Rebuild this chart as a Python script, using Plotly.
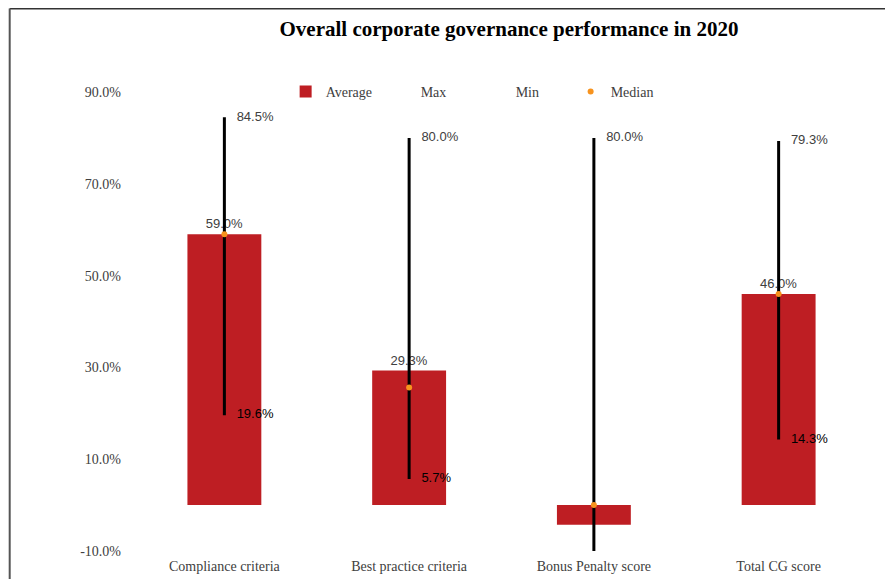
import plotly.graph_objects as go

categories = ["Compliance criteria<br>Max=70", "Best practice criteria<br>Max=30",
              "Bonus Penalty score<br>Max=10", "Total CG score"]
average = [59.0, 29.3, -4.3, 46.0]
max_val = [84.5, 80.0, 80.0, 79.3]
min_val = [19.6, 5.7, -10.0, 14.3]
median = [59.0, 25.6, 0.0, 46.0]

avg_labels = ["59.0%", "29.3%", "", "46.0%"]
max_labels = ["84.5%", "80.0%", "80.0%", "79.3%"]
min_labels = ["19.6%", "5.7%", "", "14.3%"]

serif = "Liberation Serif, Times New Roman, serif"
sans = "Liberation Sans, Arial, sans-serif"
red = "#BE1E23"

fig = go.Figure()
fig.add_trace(go.Bar(x=categories, y=average, name="Average",
                     marker=dict(color=red, line=dict(width=0)),
                     width=0.4,
                     text=avg_labels, textposition="outside",
                     textfont=dict(family=sans, size=13, color="#404040"),
                     cliponaxis=False))
fig.add_trace(go.Scatter(x=categories, y=max_val, name="Max",
                         mode="markers+text",
                         marker=dict(size=18, color="rgba(0,0,0,0)"),
                         text=max_labels, textposition="middle right",
                         textfont=dict(family=sans, size=13, color="#404040"),
                         cliponaxis=False))
fig.add_trace(go.Scatter(x=categories, y=min_val, name="Min",
                         mode="markers+text",
                         marker=dict(size=18, color="rgba(0,0,0,0)"),
                         text=min_labels, textposition="middle right",
                         textfont=dict(family=sans, size=13, color="#000000"),
                         cliponaxis=False))
# high-low line drawn as error bars around the median
fig.add_trace(go.Scatter(x=categories, y=median, name="Median",
                         mode="markers",
                         marker=dict(size=6, color="#F7931E"),
                         error_y=dict(type="data", symmetric=False,
                                      array=[mx - md for mx, md in zip(max_val, median)],
                                      arrayminus=[md - mn for md, mn in zip(median, min_val)],
                                      color="black", thickness=3, width=0),
                         cliponaxis=False))

fig.update_layout(
    width=893, height=579,
    margin=dict(l=123.5, r=29.5, t=84, b=36),
    paper_bgcolor="white", plot_bgcolor="white",
    title=dict(text="<b>Overall corporate governance performance in 2020</b>",
               x=0.561, xanchor="center", y=0.9637, yanchor="middle", yref="container",
               font=dict(family=serif, size=21, color="black")),
    legend=dict(orientation="h", x=0.465, xanchor="center", y=1.0, yanchor="middle",
                font=dict(family=serif, size=14, color="#404040"),
                itemwidth=30, entrywidth=50, bgcolor="rgba(0,0,0,0)"),
    font=dict(family=serif, size=14, color="#404040"),
    showlegend=True,
)
fig.update_xaxes(showgrid=False, showline=False, zeroline=False, ticks="",
                 tickfont=dict(family=serif, size=14, color="#404040"),
                 ticklabelstandoff=5,
                 range=[-0.5, 3.5], automargin=False)
fig.update_yaxes(range=[-10, 90], tickvals=[-10, 10, 30, 50, 70, 90],
                 ticktext=["-10.0%", "10.0%", "30.0%", "50.0%", "70.0%", "90.0%"],
                 showgrid=False, showline=False, zeroline=False, ticks="",
                 tickfont=dict(family=serif, size=14, color="#404040"),
                 ticklabelstandoff=10,
                 automargin=False)

# frame lines of the original picture (top and left)
fig.add_shape(type="line", xref="paper", yref="paper", x0=-0.1655, x1=1.05, y0=1.1819, y1=1.1819,
              line=dict(color="#333333", width=2))
fig.add_shape(type="line", xref="paper", yref="paper", x0=-0.1655, x1=-0.1655, y0=1.1819, y1=-0.08,
              line=dict(color="#555555", width=2))

fig.write_html("out.html")
